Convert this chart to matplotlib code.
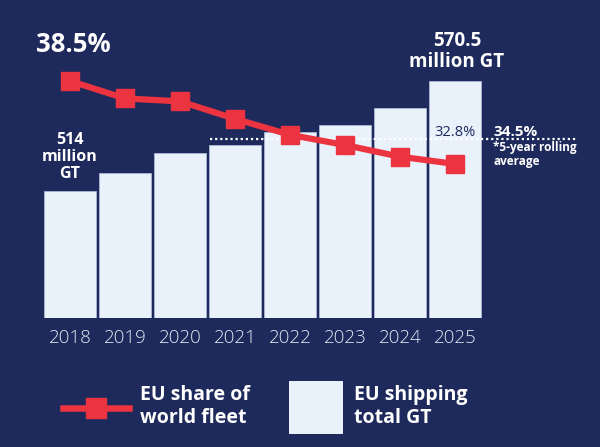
import matplotlib
matplotlib.use("Agg")
import matplotlib.pyplot as plt
from matplotlib.lines import Line2D
from matplotlib.patches import Rectangle

# ---- data ----
years = ["2018", "2019", "2020", "2021", "2022", "2023", "2024", "2025"]
total_gt = [514, 523, 533.5, 537.5, 544, 548, 556.5, 570.5]      # million GT
eu_share = [38.5, 37.3, 37.1, 35.9, 34.8, 34.1, 33.3, 32.8]       # % of world fleet
rolling_avg = 34.5                                               # 5-year rolling average, %
avg_start_year = "2021"

# ---- style ----
BG = "#1f2a5c"
BAR = "#e9f1fa"
BAR_EDGE = "#aab6d2"
RED = "#ec3340"
NAVY = "#1f2a5c"
FONT = ["Open Sans", "DejaVu Sans"]
plt.rcParams["font.family"] = FONT

W, H = 600, 447
fig = plt.figure(figsize=(W / 100, H / 100), dpi=100, facecolor=BG)

def fx(px):
    return px / W

def fy(py):
    return 1 - py / H

ax = fig.add_axes([42.5 / W, 129 / H, 440 / W, 288 / H])
ax.set_facecolor("none")
x = list(range(len(years)))
ax.bar(x, total_gt, width=0.945, color=BAR, edgecolor=BAR_EDGE, linewidth=0.6, zorder=2)
ax.set_xlim(-0.5, len(years) - 0.5)
ax.set_ylim(448.8, 596.6)
ax.set_yticks([])
ax.set_xticks(x, years)
ax.tick_params(axis="x", length=0, pad=8, labelsize=13.5, labelcolor="#e3e8f2")
for lab in ax.get_xticklabels():
    lab.set_fontweight("light")
for s in ax.spines.values():
    s.set_visible(False)

ax2 = ax.twinx()
ax2.set_ylim(22.22, 42.0)
ax2.set_yticks([])
for s in ax2.spines.values():
    s.set_visible(False)

# rolling average dotted line
x0 = years.index(avg_start_year) - 0.455
ax2.hlines(rolling_avg, x0, 9.24, colors="white", linestyles=(0, (1, 1.3)),
           linewidth=1.6, clip_on=False, zorder=3)
ax2.plot(x, eu_share, color=RED, lw=4.5, marker="s", ms=13.5,
         solid_joinstyle="miter", zorder=4, clip_on=False)

# ---- annotations ----
fig.text(fx(36), fy(44), f"{eu_share[0]}%", color="white", fontsize=18.5,
         fontweight="bold", ha="left", va="center")
fig.text(fx(70), fy(157), f"{total_gt[0]:g}\nmillion\nGT", color="white",
         fontsize=11.5, fontweight="bold", ha="center", va="center",
         multialignment="center", linespacing=1.1)
fig.text(fx(457), fy(51.5), f"{total_gt[-1]:g}\nmillion GT", color="white",
         fontsize=13.5, fontweight="bold", ha="center", va="center",
         multialignment="center", linespacing=1.1)
fig.text(fx(455), fy(133), f"{eu_share[-1]}%", color=NAVY, fontsize=10.5,
         ha="center", va="center")
ax2.annotate(f"{rolling_avg}%", xy=(fx(493), rolling_avg),
             xycoords=("figure fraction", "data"), xytext=(0, 7),
             textcoords="offset pixels", color="white", fontsize=11,
             fontweight="bold", ha="left", va="center", annotation_clip=False)
ax2.annotate("*5-year rolling\naverage", xy=(fx(493), rolling_avg),
             xycoords=("figure fraction", "data"), xytext=(0, -15.5),
             textcoords="offset pixels", color="white", fontsize=8.5,
             fontweight="bold", ha="left", va="center", linespacing=1.05,
             annotation_clip=False)

# ---- legend ----
fig.add_artist(Line2D([fx(63), fx(129)], [fy(408), fy(408)], color=RED, lw=4.7,
                      transform=fig.transFigure))
fig.add_artist(Line2D([fx(96)], [fy(408)], color=RED, marker="s", ms=15,
                      transform=fig.transFigure))
fig.add_artist(Rectangle((fx(289), fy(434)), 54 / W, 53 / H, transform=fig.transFigure,
                         facecolor=BAR, edgecolor="none"))
fig.text(fx(140), fy(406.5), "EU share of\nworld fleet", color="white", fontsize=14,
         fontweight="bold", ha="left", va="center", linespacing=1.25)
fig.text(fx(354), fy(406.5), "EU shipping\ntotal GT", color="white", fontsize=14,
         fontweight="bold", ha="left", va="center", linespacing=1.25)

fig.savefig("out.png", dpi=100, facecolor=BG)
